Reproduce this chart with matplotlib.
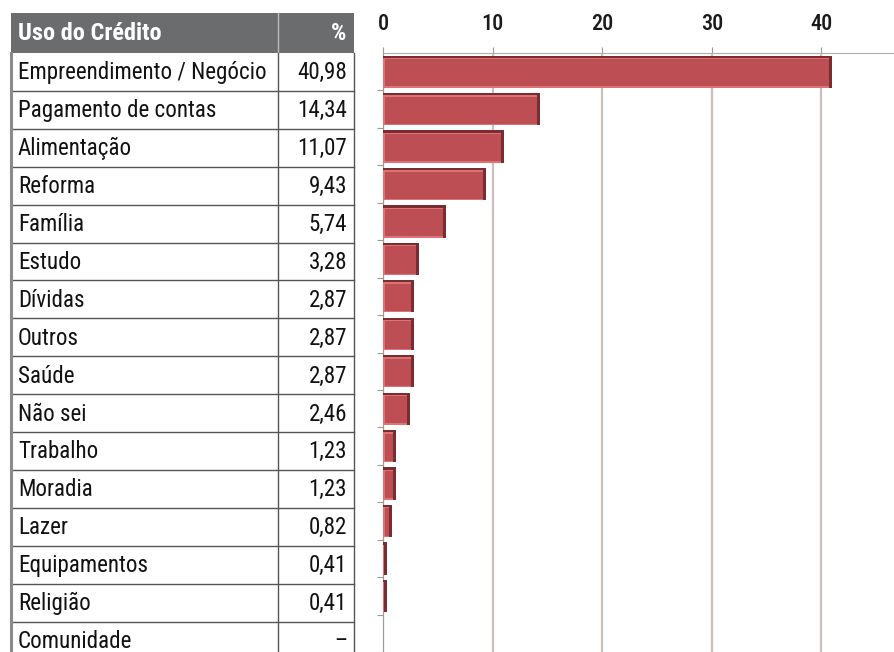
import numpy as np
import matplotlib.pyplot as plt
from matplotlib.patches import Rectangle

plt.rcParams['font.family'] = ['Liberation Sans Narrow', 'Roboto Condensed', 'DejaVu Sans']
plt.rcParams['font.stretch'] = 'condensed'

usos = ['Empreendimento / Negócio', 'Pagamento de contas', 'Alimentação', 'Reforma',
        'Família', 'Estudo', 'Dívidas', 'Outros', 'Saúde', 'Não sei', 'Trabalho',
        'Moradia', 'Lazer', 'Equipamentos', 'Religião', 'Comunidade']
percent = [40.98, 14.34, 11.07, 9.43, 5.74, 3.28, 2.87, 2.87, 2.87, 2.46,
           1.23, 1.23, 0.82, 0.41, 0.41, 0.0]
rotulos = ['40,98', '14,34', '11,07', '9,43', '5,74', '3,28', '2,87', '2,87', '2,87',
           '2,46', '1,23', '1,23', '0,82', '0,41', '0,41', '–']
xticks = [0, 10, 20, 30, 40]

W, H = 894, 652
fig = plt.figure(figsize=(W / 100, H / 100), dpi=100)

# tabela (coordenadas em pixels)
tab = fig.add_axes([0, 0, 1, 1])
tab.set_xlim(0, W)
tab.set_ylim(H, 0)
tab.axis('off')

x0, xdiv, x1 = 11, 278, 354
y_head, h_head, h_row = 13, 40, 37.9
linha = '#555555'
fs = 16.6

tab.add_patch(Rectangle((x0, y_head), x1 - x0, h_head, facecolor='#6b6c6e', edgecolor='none'))
tab.plot([xdiv, xdiv], [y_head, y_head + h_head], color='#bdbdbd', lw=1)
tab.text(x0 + 7, y_head + h_head / 2 + 1, 'Uso do Crédito', color='white', fontsize=17.5,
         fontweight='bold', va='center', ha='left')
tab.text(x1 - 8, y_head + h_head / 2 + 1, '%', color='white', fontsize=17.5,
         fontweight='bold', va='center', ha='right')

y_top = y_head + h_head
n = len(usos)
for i in range(n):
    yc = y_top + h_row * (i + 0.5)
    tab.text(x0 + 7, yc + 1, usos[i], fontsize=fs, color='#111111', va='center', ha='left')
    tab.text(x1 - 7, yc + 1, rotulos[i], fontsize=fs, color='#111111', va='center', ha='right')
    tab.plot([x0, x1], [y_top + h_row * (i + 1)] * 2, color=linha, lw=1)
tab.plot([x0, x0], [y_top, H], color='#8a8a8a', lw=2.2)
tab.plot([xdiv, xdiv], [y_top, H], color=linha, lw=1)
tab.plot([x1, x1], [y_top, H], color=linha, lw=1)

# grafico de barras
left_px, top_px = 383, 53
px_por_10 = 109.6
ax = fig.add_axes([left_px / W, 0, (W - left_px) / W, (H - top_px) / H])
ax.set_xlim(0, (W - left_px) / px_por_10 * 10)
ax.set_ylim(-0.5 + (H - top_px) / h_row, -0.5)

y = np.arange(n)
p = np.array(percent)
h = 0.86
bx, by = 0.3, 0.06  # espessura do chanfro
# fundo escuro (topo e lado direito)
ax.barh(y, p, height=h, color='#7a2c30', zorder=3)
# chanfro claro (esquerda e base)
ax.barh(y + by / 2, np.maximum(p - bx, 0), height=h - by, color='#de7377', zorder=4)
# face
ax.barh(y + by / 2, np.maximum(p - 1.7 * bx, 0), left=np.minimum(0.7 * bx, p / 3),
        height=h - 2.2 * by, color='#bd4e54', zorder=5)

ax.xaxis.tick_top()
ax.set_xticks(xticks)
ax.set_xticklabels([str(t) for t in xticks], fontsize=16, color='#1a1a1a', fontweight='medium')
ax.tick_params(axis='x', length=4, color='#9a9a9a', pad=9)
ax.grid(axis='x', color='#c9c0bb', lw=1.6, zorder=0)
ax.set_yticks(np.arange(n) + 0.5)
ax.set_yticklabels([])
ax.tick_params(axis='y', length=4, color='#9a9a9a')
for s in ['right', 'bottom']:
    ax.spines[s].set_visible(False)
ax.spines['top'].set_color('#b5aaa5')
ax.spines['left'].set_color('#9a9a9a')
ax.set_facecolor('white')

fig.savefig('out.png', dpi=100)
